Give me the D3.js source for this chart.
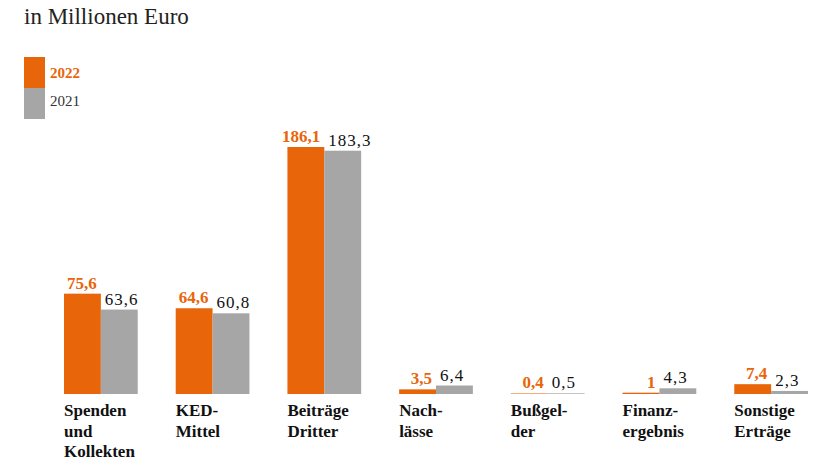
<!DOCTYPE html>
<html><head><meta charset="utf-8">
<script src="https://cdn.jsdelivr.net/npm/d3@7"></script>
<style>body{margin:0;background:#fff}</style>
</head><body><svg id="chart" width="837" height="471"></svg>
<script>
const categories = [["Spenden","und","Kollekten"],["KED-","Mittel"],["Beiträge","Dritter"],["Nach-","lässe"],["Bußgel-","der"],["Finanz-","ergebnis"],["Sonstige","Erträge"]];
const values2022 = [75.6, 64.6, 186.1, 3.5, 0.4, 1, 7.4];
const values2021 = [63.6, 60.8, 183.3, 6.4, 0.5, 4.3, 2.3];
const years = ["2022", "2021"];

const orange = "#e8650a", gray = "#a6a6a6";
const font = "Liberation Serif, DejaVu Serif, serif";
const fmt = v => String(v).replace(".", ",");

const svg = d3.select("#chart");
const x = d3.scaleBand().domain(d3.range(categories.length)).range([64, 808]).paddingInner(0.34).paddingOuter(0);
const bw = x.bandwidth() / 2;
const y = d3.scaleLinear().domain([0, 186.1]).range([394, 147]);

svg.append("text").attr("x", 24).attr("y", 24).attr("font-family", font)
  .attr("font-size", 23).attr("fill", "#222").text("in Millionen Euro");

// legend
[orange, gray].forEach((c, i) => {
  svg.append("rect").attr("x", 24).attr("y", 57 + i * 31).attr("width", 21).attr("height", 31).attr("fill", c);
  svg.append("text").attr("x", 50).attr("y", 78 + i * 28).attr("font-family", font)
    .attr("font-size", 15).attr("font-weight", i ? "normal" : "bold")
    .attr("fill", i ? "#333" : orange).text(years[i]);
});

const g = svg.append("g");
categories.forEach((cat, i) => {
  const x0 = x(i);
  g.append("rect").attr("x", x0).attr("y", y(values2022[i])).attr("width", bw)
    .attr("height", y(0) - y(values2022[i])).attr("fill", orange);
  g.append("rect").attr("x", x0 + bw).attr("y", y(values2021[i])).attr("width", bw)
    .attr("height", y(0) - y(values2021[i])).attr("fill", gray);
  g.append("text").attr("x", x0 + bw - 4).attr("y", y(values2022[i]) - 5).attr("text-anchor", "end")
    .attr("font-family", font).attr("font-size", 17).attr("font-weight", "bold").attr("fill", orange)
    .text(fmt(values2022[i]));
  g.append("text").attr("x", x0 + bw + 4).attr("y", y(values2021[i]) - 5).attr("text-anchor", "start")
    .attr("font-family", font).attr("font-size", 17).attr("fill", "#111").attr("letter-spacing", 1)
    .text(fmt(values2021[i]));
  cat.forEach((line, k) => {
    g.append("text").attr("x", x0).attr("y", 416 + k * 20.5).attr("font-family", font)
      .attr("font-size", 17).attr("font-weight", "bold").attr("fill", "#111").text(line);
  });
});
</script></body></html>
